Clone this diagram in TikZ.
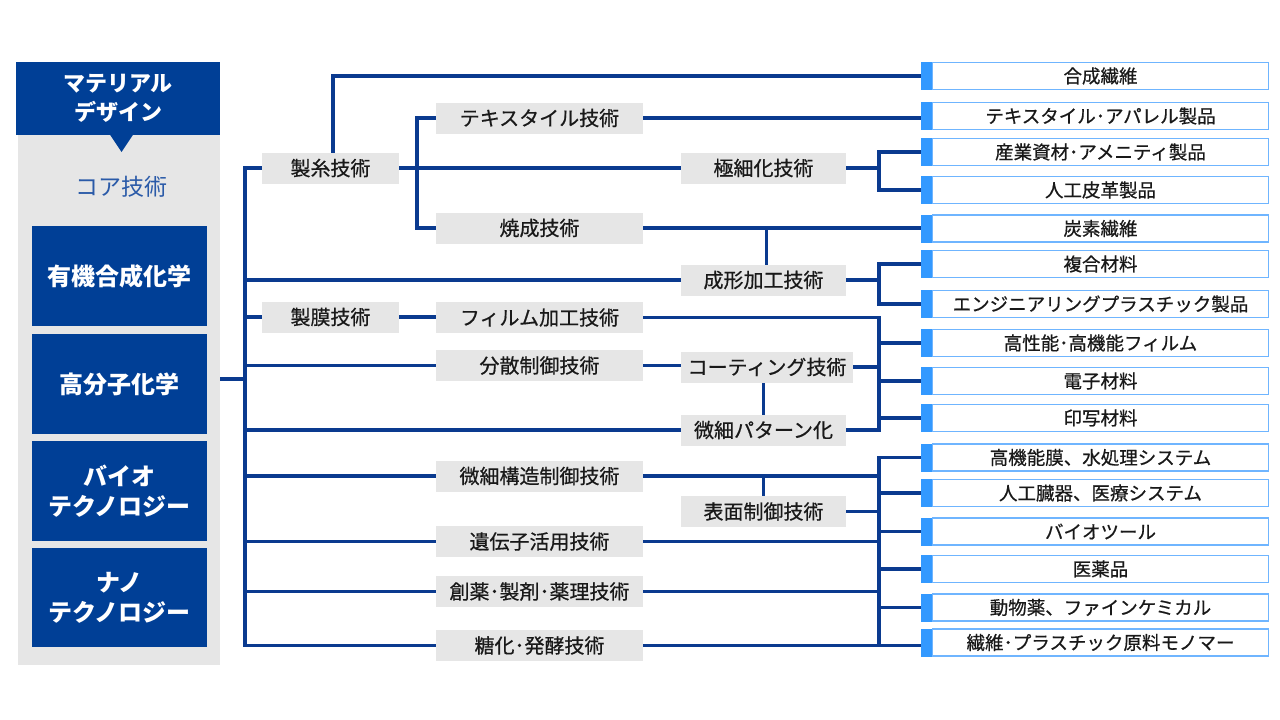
\documentclass[tikz,border=0pt]{standalone}
\usepackage{fontspec}
\setmainfont{Noto Sans CJK JP}
\newfontfamily\medfont{Noto Sans CJK JP}[FakeBold=0.6]
\usetikzlibrary{backgrounds}
\definecolor{navy}{HTML}{003F96}
\definecolor{linec}{HTML}{0A3A8F}
\definecolor{graybg}{HTML}{E6E6E6}
\definecolor{markc}{HTML}{3399FF}
\definecolor{rborder}{HTML}{6FB5FF}
\definecolor{coretxt}{HTML}{2A5AA8}
\begin{document}
\begin{tikzpicture}[x=1pt,y=-1pt,
  conn/.style={draw=linec,line width=3.2pt,line cap=rect},
  techbox/.style={fill=graybg,inner sep=0pt,minimum height=31pt,font=\medfont\fontsize{20}{24}\selectfont,text=black!90},
  colA/.style={techbox,minimum width=137pt},
  colB/.style={techbox,minimum width=207pt},
  colC/.style={techbox,minimum width=165pt},
  prodbox/.style={draw=rborder,line width=1.2pt,fill=white,inner sep=0pt,minimum width=336pt,minimum height=27pt,font=\medfont\fontsize{18.5}{22}\selectfont,text=black!90},
  markbar/.style={fill=markc,inner sep=0pt,minimum width=11pt,minimum height=28pt},
  corebox/.style={fill=navy,inner sep=0pt,minimum width=175pt,text=white,font=\bfseries\fontsize{24}{30}\selectfont,align=center}]
\useasboundingbox (0,0) rectangle (1280,720);
% left panel
\node[fill=graybg,inner sep=0pt,minimum width=202pt,minimum height=603pt] (panel) at (119,363.5) {};
\node[fill=navy,inner sep=0pt,minimum width=204pt,minimum height=73pt,text=white,align=center,font=\bfseries\fontsize{22}{29}\selectfont] (header) at (118,98.5) {マテリアル\\デザイン};
\fill[navy] (109.5,134) -- (133.5,134) -- (121.5,152) -- cycle;
\node[text=coretxt,font=\fontsize{23}{28}\selectfont,inner sep=0pt] (core) at (121,187) {コア技術};
\node[corebox,minimum height=100pt] (yuki) at (119.5,276) {有機合成化学};
\node[corebox,minimum height=100pt] (kobunshi) at (119.5,384) {高分子化学};
\node[corebox,minimum height=100pt] (bio) at (119.5,491) {バイオ\\テクノロジー};
\node[corebox,minimum height=99pt] (nano) at (119.5,597.5) {ナノ\\テクノロジー};
% column A
\node[colA] (seishi) at (330.5,168) {製糸技術};
\node[colA] (seimaku) at (330.5,317) {製膜技術};
% column B
\node[colB] (textile) at (539.5,118) {テキスタイル技術};
\node[colB] (shosei) at (539.5,228) {焼成技術};
\node[colB] (film) at (539.5,317.5) {フィルム加工技術};
\node[colB] (bunsan) at (539.5,365.5) {分散制御技術};
\node[colB] (kozo) at (539.5,476) {微細構造制御技術};
\node[colB] (idenshi) at (539.5,541.5) {遺伝子活用技術};
\node[colB] (soyaku) at (539.5,591.5) {創薬･製剤･薬理技術};
\node[colB] (toka) at (539.5,645.5) {糖化･発酵技術};
% column C
\node[colC] (gokusai) at (763.5,168) {極細化技術};
\node[colC] (seikei) at (763.5,280) {成形加工技術};
\node[colC,minimum width=172pt] (coating) at (767,367) {コーティング技術};
\node[colC] (bisai) at (763.5,430) {微細パターン化};
\node[colC] (hyomen) at (763.5,511.5) {表面制御技術};
% products
\foreach \i/\y/\t in {1/76/合成繊維,2/116/テキスタイル･アパレル製品,3/152/産業資材･アメニティ製品,4/190/人工皮革製品,5/228.5/炭素繊維,6/264/複合材料,7/304/エンジニアリングプラスチック製品,8/343/高性能･高機能フィルム,9/381/電子材料,10/418/印写材料,11/457.5/高機能膜、水処理システム,12/493/人工臓器、医療システム,13/531.5/バイオツール,14/569/医薬品,15/607.5/動物薬、ファインケミカル,16/642.5/繊維･プラスチック原料モノマー}{
  \node[prodbox] (r\i) at (1100.5,\y) {\t};
  \node[markbar] (m\i) at (926.5,\y) {};
}
\coordinate (tx) at (245,0);
\coordinate (j1) at (417,0);
\coordinate (b1) at (879,0);
\coordinate (src) at (220,379);
\begin{scope}[on background layer]
\fill[white] (0,0) rectangle (1280,720);
% trunk
\draw[conn] (src) -- (src -| tx);
\draw[conn] (seishi.west -| tx) -- (toka.west -| tx);
\foreach \n in {seishi,seikei,seimaku,bunsan,bisai,kozo,idenshi,soyaku,toka}
  \draw[conn] (\n.west -| tx) -- (\n.west);
% seishi
\draw[conn] ([xshift=2.5pt]seishi.north) |- (m1.west);
\draw[conn] (seishi.east) -- (gokusai.west);
\draw[conn] (textile.west) -- (textile.west -| j1) -- (shosei.west -| j1) -- (shosei.west);
\draw[conn] (textile.east) -- (textile.east -| m2.west);
\draw[conn] (gokusai.east) -- (gokusai.east -| b1);
\draw[conn] (m3.west) -- (m3.west -| b1) -- (m4.west -| b1) -- (m4.west);
\draw[conn] (shosei.east) -- (shosei.east -| m5.west);
\draw[conn] ([xshift=3pt]seikei.north) -- ([xshift=3pt]seikei.north |- shosei.east);
\draw[conn] (seikei.east) -- (seikei.east -| b1);
\draw[conn] (m6.west) -- (m6.west -| b1) -- (m7.west -| b1) -- (m7.west);
% film group
\draw[conn] (seimaku.east) -- (seimaku.east -| film.west);
\draw[conn] (film.east) -- (film.east -| b1) -- (bisai.east -| b1) -- (bisai.east);
\draw[conn] (bunsan.east) -- (bunsan.east -| coating.west);
\draw[conn] (coating.east) -- (coating.east -| b1);
\draw[conn] (bisai.north) -- (bisai.north |- coating.south);
\foreach \i in {8,9,10} \draw[conn] (m\i.west -| b1) -- (m\i.west);
% lower group
\draw[conn] (kozo.east) -- (kozo.east -| b1);
\draw[conn] (hyomen.north) -- (hyomen.north |- kozo.east);
\draw[conn] (hyomen.east) -- (hyomen.east -| b1);
\draw[conn] (idenshi.east) -- (idenshi.east -| b1);
\draw[conn] (soyaku.east) -- (soyaku.east -| b1);
\draw[conn] (toka.east) -- (toka.east -| m16.west);
\draw[conn] (m11.west) -- (m11.west -| b1) -- (toka.east -| b1);
\foreach \i in {12,13,14,15} \draw[conn] (m\i.west -| b1) -- (m\i.west);
\end{scope}
\end{tikzpicture}
\end{document}
